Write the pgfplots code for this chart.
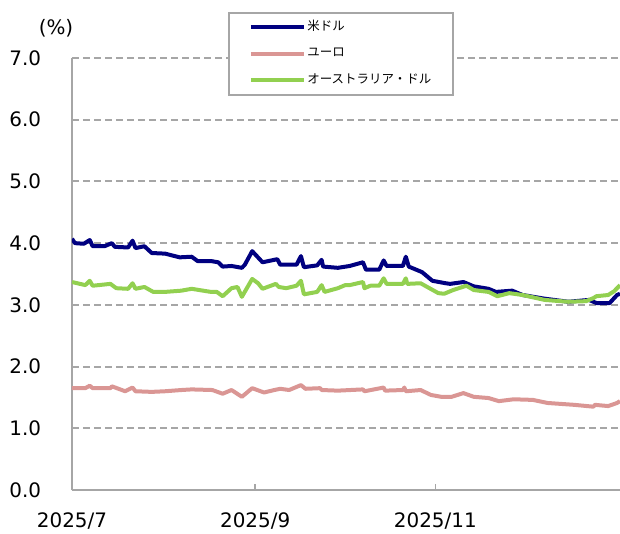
\documentclass[border=0pt]{standalone}
\usepackage{fontspec}
\setmainfont{DejaVu Sans}
\newfontfamily\jpfont{Noto Sans CJK JP}
\usepackage{pgfplots}
\pgfplotsset{compat=1.18}
\definecolor{usd}{RGB}{0,0,128}
\definecolor{eur}{RGB}{218,150,148}
\definecolor{aud}{RGB}{146,208,80}
\definecolor{gridgray}{RGB}{166,166,166}

\begin{document}
\fontsize{20}{24}\selectfont
\begin{tikzpicture}
\useasboundingbox (-72bp,-44bp) rectangle (548bp,490bp);
\begin{axis}[
    name=ax,
    scale only axis,
    width=548bp, height=432bp,
    xmin=0, xmax=185.5,
    ymin=0, ymax=7,
    xtick={0,62,123},
    xticklabels={2025/7,2025/9,2025/11},
    ytick={0,1,...,7},
    yticklabel style={xshift=-24bp, /pgf/number format/fixed,
        /pgf/number format/fixed zerofill, /pgf/number format/precision=1},
    /pgf/number format/assume math mode=true,
    xticklabel style={yshift=-16bp},
    axis lines*=left,
    axis line style={-, draw=gridgray, line width=2bp},
    tick align=inside,
    major tick length=6bp,
    xtick style={draw=gridgray, line width=1.5bp},
    ytick style={draw=none},
    ymajorgrids,
    grid style={draw=gridgray, line width=2bp, dash pattern=on 7bp off 4bp},
    legend style={
        at={(0.285,1.106)}, anchor=north west,
        draw=gridgray, line width=1.5bp, fill=white,
        inner xsep=20bp, inner ysep=7bp, row sep=11.5bp, column sep=0bp,
        font=\jpfont\fontsize{12.5}{14}\selectfont,
        cells={anchor=west},
        nodes={inner sep=1.5bp, text height=9bp, text depth=3bp},
        /tikz/every odd column/.style={column sep=0bp},
    },
    legend image code/.code={\draw[#1] (0bp,0bp) -- (53bp,0bp);},
]
% 米ドル
\addplot[usd, line width=4bp, line join=round] coordinates {
(0,4.07) (1,4.00) (4,3.99) (6,4.05) (7,3.95) (11,3.95) (13.5,4.00) (14.5,3.94)
(19,3.93) (20.5,4.04) (21.5,3.92) (24.5,3.95) (27,3.84) (31.5,3.83) (36.5,3.77)
(40.5,3.78) (42.5,3.71) (47,3.71) (49.5,3.69) (51,3.62) (54,3.63) (57.5,3.60)
(58.5,3.65) (61,3.87) (64.5,3.69) (69.5,3.74) (70.5,3.65) (76,3.65) (77.5,3.79)
(78.5,3.61) (83,3.64) (84.5,3.73) (85,3.62) (90,3.60) (94,3.63) (98.5,3.69)
(99.5,3.57) (104,3.57) (105.5,3.72) (106.5,3.63) (112,3.63) (113,3.78) (114,3.62)
(118.5,3.53) (122,3.39) (126.5,3.35) (128,3.34) (132.5,3.37) (136,3.30) (141,3.26)
(143.5,3.21) (149,3.23) (152.5,3.16) (160,3.10) (168,3.05) (175,3.08) (177.5,3.03)
(182,3.03) (184.5,3.16) (185.5,3.18)
};
\addlegendentry{米ドル}
% ユーロ
\addplot[eur, line width=4bp, line join=round] coordinates {
(0,1.65) (4.5,1.65) (6,1.69) (7,1.65) (13,1.65) (13.5,1.68) (18,1.60) (20.5,1.66)
(21.5,1.60) (27,1.59) (31.5,1.60) (37,1.62) (40.5,1.63) (47.5,1.62) (51,1.56)
(54,1.62) (57.5,1.51) (61,1.65) (65,1.58) (68.5,1.62) (70.5,1.64) (73.5,1.62)
(77.5,1.70) (79,1.64) (84,1.65) (84.5,1.62) (90,1.61) (98.5,1.63) (99,1.60)
(105.5,1.66) (106,1.61) (112,1.62) (112.5,1.66) (113,1.60) (118,1.62) (121.5,1.54)
(125,1.51) (128.5,1.51) (132.5,1.57) (136,1.51) (141,1.49) (144.5,1.44) (149.5,1.47)
(156,1.46) (161,1.41) (170,1.38) (176.5,1.35) (177,1.38) (181.5,1.36) (184.5,1.41)
(185.5,1.44)
};
\addlegendentry{ユーロ}
% オーストラリア・ドル
\addplot[aud, line width=4bp, line join=round] coordinates {
(0,3.37) (4.5,3.32) (6,3.39) (7,3.31) (13,3.34) (15,3.27) (19,3.26) (20.5,3.35)
(21.5,3.26) (24.5,3.29) (27.5,3.21) (31.5,3.21) (37,3.23) (40.5,3.26) (47,3.21)
(49,3.21) (51,3.14) (54,3.27) (56,3.29) (57.5,3.13) (61,3.42) (63,3.35) (64.5,3.26)
(69,3.34) (70,3.29) (72.5,3.27) (76,3.31) (77.5,3.39) (78.5,3.17) (83,3.21)
(84.5,3.32) (85.5,3.21) (90,3.27) (92.5,3.32) (94,3.32) (98.5,3.37) (99,3.27)
(101,3.31) (104,3.31) (105.5,3.43) (106.5,3.34) (112,3.34) (113,3.43) (113.5,3.34)
(118,3.35) (121,3.27) (124,3.19) (126,3.18) (129,3.24) (133.5,3.31) (136,3.24)
(141,3.21) (144,3.14) (148,3.19) (152.5,3.16) (160,3.08) (168,3.05) (174,3.06)
(176.5,3.11) (177.5,3.14) (181.5,3.16) (183.5,3.22) (185.5,3.32)
};
\addlegendentry{オーストラリア・ドル}
\end{axis}
\node at ([xshift=-16bp, yshift=30bp]ax.north west) {(\%)};
\end{tikzpicture}
\end{document}
